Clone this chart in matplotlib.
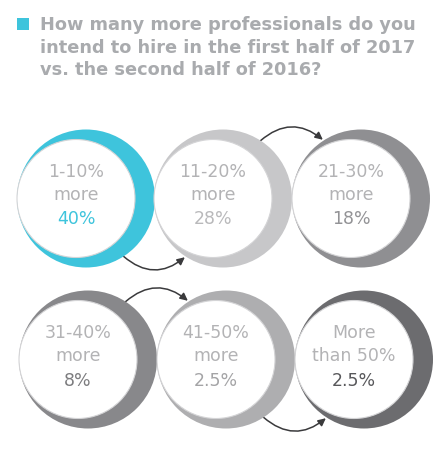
import matplotlib
matplotlib.use("Agg")
import matplotlib.pyplot as plt
from matplotlib.patches import Circle, Rectangle, FancyArrowPatch
import numpy as np

# survey answers
ranges = ["1-10%\nmore", "11-20%\nmore", "21-30%\nmore",
          "31-40%\nmore", "41-50%\nmore", "More\nthan 50%"]
shares = ["40%", "28%", "18%", "8%", "2.5%", "2.5%"]

ring_colors = ["#3ec4dc", "#c7c7c9", "#8f8f92", "#88888b", "#aeaeb0", "#6c6c6f"]
value_colors = ["#3ec4dc", "#b9b9bb", "#939396", "#7c7c7f", "#a4a4a6", "#58585b"]
label_color = "#b3b3b5"
title_color = "#a9abae"

title = ("How many more professionals do you\n"
         "intend to hire in the first half of 2017\n"
         "vs. the second half of 2016?")

W, H = 448, 453
fig = plt.figure(figsize=(W / 100, H / 100), dpi=100)
ax = fig.add_axes([0, 0, 1, 1])
ax.set_xlim(0, W)
ax.set_ylim(H, 0)
ax.set_aspect("equal")
ax.axis("off")

# layout: two rows of three
col_x = [[86, 223, 361], [88, 226, 364]]
row_y = [198.5, 359.5]
R = 69      # outer coloured disc
r = 59      # white disc
shift = 10  # white disc sits to the left

centers = []
for i in range(len(ranges)):
    row, col = divmod(i, 3)
    cx, cy = col_x[row][col], row_y[row]
    centers.append((cx, cy))
    ax.add_patch(Circle((cx, cy), R, color=ring_colors[i], lw=0, zorder=2))
    ax.add_patch(Circle((cx - shift, cy), r, facecolor="white",
                        edgecolor="#d4d4d6", lw=0.8, zorder=3))
    tx, ty = cx - shift, cy - 3
    ax.text(tx, ty - 12, ranges[i], ha="center", va="center", fontsize=12.5,
            color=label_color, family="DejaVu Sans", linespacing=1.35,
            zorder=4)
    ax.text(tx, ty + 24, shares[i], ha="center", va="center", fontsize=12.5,
            color=value_colors[i], family="DejaVu Sans", zorder=4)

# curved arrows linking the circles (+1 below, -1 above)
links = [(0, 1, 1), (1, 2, -1), (3, 4, -1), (4, 5, 1)]
for a, b, side in links:
    (x0, y0), (x1, y1) = centers[a], centers[b]
    ang0 = np.deg2rad(57) * side
    ang1 = np.deg2rad(123) * side
    p0 = (x0 + R * np.cos(ang0), y0 + R * np.sin(ang0))
    p1 = (x1 + (R + 1) * np.cos(ang1), y1 + (R + 1) * np.sin(ang1))
    arr = FancyArrowPatch(p0, p1, connectionstyle="arc3,rad=%.2f" % (0.42 * side),
                          arrowstyle="-|>,head_length=4.5,head_width=2.2",
                          color="#3a3a3c", lw=1.1, zorder=1, shrinkA=0, shrinkB=0)
    ax.add_patch(arr)

# title with cyan square
ax.add_patch(Rectangle((17, 18), 11.5, 11.5, color="#3ec4dc", lw=0))
ax.text(40, 16, title, ha="left", va="top", fontsize=12.8, fontweight="bold",
        color=title_color, family="DejaVu Sans", linespacing=1.33)

fig.savefig("out.png", dpi=100)
